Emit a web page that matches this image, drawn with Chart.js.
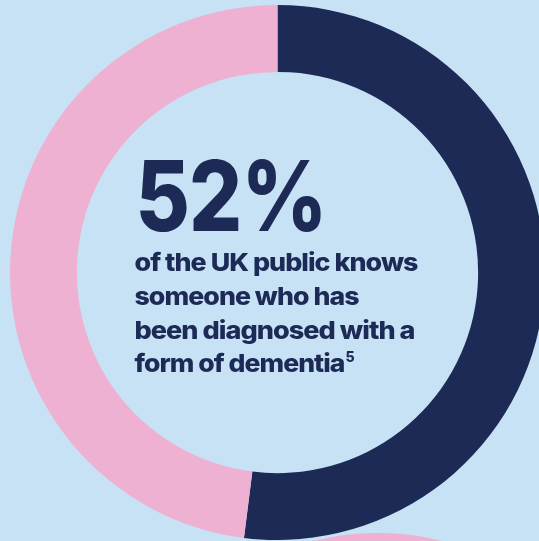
<!DOCTYPE html>
<html>
<head>
<meta charset="utf-8">
<script src="https://cdn.jsdelivr.net/npm/chart.js@4.4.1/dist/chart.umd.min.js"></script>
<style>
  html, body { margin: 0; padding: 0; background: #c6e2f4; overflow: hidden; }
  #wrap { position: relative; width: 539px; height: 541px; overflow: hidden; background: #c6e2f4; }
  #ring { position: absolute; left: 10px; top: 5px; }
  #next { position: absolute; left: 111px; top: 533px; }
</style>
</head>
<body>
<div id="wrap">
  <canvas id="next" width="534" height="534"></canvas>
  <canvas id="ring" width="535" height="535"></canvas>
</div>
<script>
// share of UK public who know someone diagnosed with dementia
var labels = ["Knows someone diagnosed", "Does not"];
var values = [52, 48];
var colours = ["#1d2a56", "#eeb1d2"];

// headline text
var bigFigure = "52%";
var textLines = ["of the UK public knows", "someone who has", "been diagnosed with a", "form of dementia"];
var footnote = "5";

// the next figure's ring, only its top edge shows at the bottom
var nextValues = [100];
var nextColours = ["#eeb1d2"];

var navy = "#1d2a56";

// draw text scaled sideways so it spans the given width
function fitText(ctx, txt, x, y, width, spacing) {
	if ('letterSpacing' in ctx) ctx.letterSpacing = spacing + "px";
	var natural = ctx.measureText(txt).width;
	ctx.save();
	ctx.translate(x, y);
	ctx.scale(width / natural, 1);
	ctx.fillText(txt, 0, 0);
	ctx.restore();
	if ('letterSpacing' in ctx) ctx.letterSpacing = "0px";
	return x + width;
}

var centreText = {
	id: 'centreText',
	afterDraw: function(chart) {
		var ctx = chart.ctx;
		var area = chart.chartArea;
		var cx = (area.left + area.right) / 2;
		var cy = (area.top + area.bottom) / 2;
		var left = cx - 143;

		ctx.save();
		ctx.fillStyle = navy;
		ctx.textBaseline = "alphabetic";
		ctx.textAlign = "left";

		ctx.font = "800 97px Inter";
		fitText(ctx, bigFigure, left + 1, cy - 42, 191, -1);

		var widths = [283, 224, 280, 210];
		var offsets = [-2, 32, 66, 99.5];
		var end = 0;
		for (var i = 0; i < textLines.length; i++) {
			ctx.font = "800 25px Inter";
			end = fitText(ctx, textLines[i], left, cy + offsets[i], widths[i], -0.9);
		}
		ctx.font = "800 14px Inter";
		ctx.fillText(footnote, end + 1, cy + 89);
		ctx.restore();
	}
};

var arcOptions = {
	responsive: false,
	animation: false,
	events: [],
	cutout: '75%',
	layout: { padding: 0 },
	plugins: {
		legend: { display: false },
		tooltip: { enabled: false }
	}
};

new Chart(document.getElementById("ring"), {
	type: 'doughnut',
	data: {
		labels: labels,
		datasets: [{
			data: values,
			backgroundColor: colours,
			borderWidth: 0,
			hoverBorderWidth: 0,
			hoverOffset: 0
		}]
	},
	options: arcOptions,
	plugins: [centreText]
});

new Chart(document.getElementById("next"), {
	type: 'doughnut',
	data: {
		labels: ["next"],
		datasets: [{
			data: nextValues,
			backgroundColor: nextColours,
			borderWidth: 0,
			hoverBorderWidth: 0,
			hoverOffset: 0
		}]
	},
	options: arcOptions
});
</script>
</body>
</html>
